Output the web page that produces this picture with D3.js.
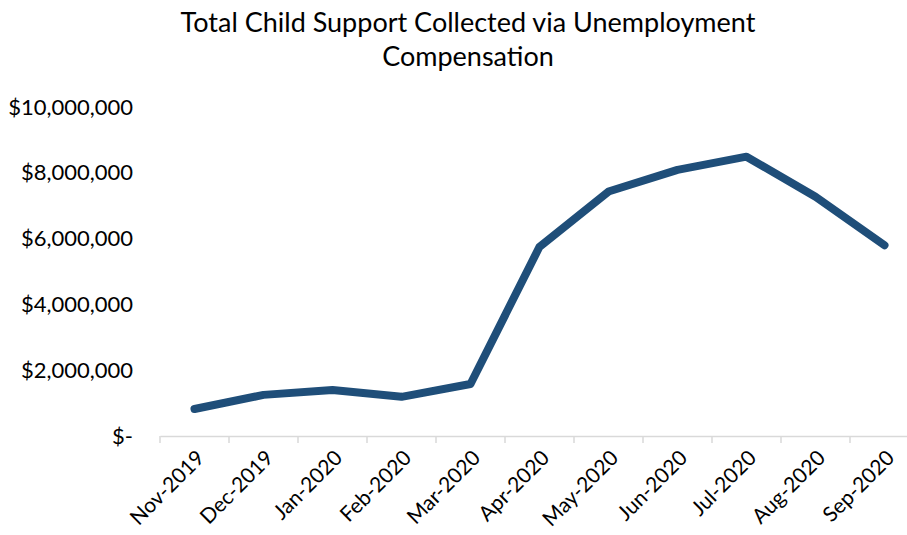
<!DOCTYPE html>
<html>
<head>
<meta charset="utf-8">
<script src="https://cdn.jsdelivr.net/npm/d3@7"></script>
<style>
  body { margin: 0; background: #fff; }
  svg { display: block; font-family: Lato, "Open Sans", sans-serif; }
</style>
</head>
<body>
<div id="chart"></div>
<script>
// ── Data ─────────────────────────────────────────────────────────────────
const months = [
  "Nov-2019", "Dec-2019", "Jan-2020", "Feb-2020", "Mar-2020", "Apr-2020",
  "May-2020", "Jun-2020", "Jul-2020", "Aug-2020", "Sep-2020",
];
const collected = [
  820000, 1250000, 1400000, 1190000, 1580000, 5750000,
  7430000, 8090000, 8490000, 7270000, 5800000,
];
const yTicks = [0, 2000000, 4000000, 6000000, 8000000, 10000000];
const titleLines = ["Total Child Support Collected via Unemployment", "Compensation"];

// ── Dimensions ───────────────────────────────────────────────────────────
const W = 907, H = 535;
const margin = { top: 107, right: -12, bottom: 99, left: 160 };
const width = W - margin.left - margin.right;
const height = H - margin.top - margin.bottom;

const FONT = "Lato, 'Open Sans', sans-serif";

const svg = d3.select("#chart").append("svg")
  .attr("width", W).attr("height", H);

// ── Title ────────────────────────────────────────────────────────────────
svg.append("text")
  .attr("x", 468).attr("y", 32)
  .attr("text-anchor", "middle")
  .style("font-size", "27px")
  .style("font-family", FONT)
  .attr("fill", "#000")
  .selectAll("tspan")
  .data(titleLines)
  .join("tspan")
  .attr("x", 468)
  .attr("dy", (d, i) => (i === 0 ? 0 : 34))
  .text((d) => d);

const g = svg.append("g")
  .attr("transform", `translate(${margin.left},${margin.top})`);

// ── Scales ───────────────────────────────────────────────────────────────
const x = d3.scaleBand().domain(months).range([0, width]);
const y = d3.scaleLinear().domain([0, 10000000]).range([height, 0]);

// ── Y axis (labels only) ─────────────────────────────────────────────────
const fmt = d3.format("$,");
g.append("g")
  .call(d3.axisLeft(y).tickValues(yTicks).tickSize(0).tickPadding(27)
    .tickFormat((d) => (d === 0 ? "$-" : fmt(d))))
  .call((ax) => ax.select(".domain").remove())
  .call((ax) => ax.selectAll("text")
    .style("font-size", "22px")
    .style("font-family", FONT)
    .attr("fill", "#000"));

// ── X axis ───────────────────────────────────────────────────────────────
const xAxis = g.append("g")
  .attr("transform", `translate(0,${height})`)
  .call(d3.axisBottom(x).tickSize(0).tickPadding(0));

xAxis.select(".domain").attr("stroke", "#d9d9d9").attr("stroke-width", 1.5);

// boundary ticks between categories
xAxis.selectAll(".cat-tick")
  .data(months)
  .join("line")
  .attr("class", "cat-tick")
  .attr("x1", (d) => x(d)).attr("x2", (d) => x(d))
  .attr("y1", 0).attr("y2", 7)
  .attr("stroke", "#d9d9d9").attr("stroke-width", 1.5);

xAxis.selectAll(".tick text")
  .style("font-size", "21px")
  .style("font-family", FONT)
  .attr("fill", "#000")
  .attr("text-anchor", "end")
  .attr("transform", "translate(6,18) rotate(-45)")
  .attr("dy", "0.35em");

// ── Line ─────────────────────────────────────────────────────────────────
const line = d3.line()
  .x((d, i) => x(months[i]) + x.bandwidth() / 2)
  .y((d) => y(d));

g.append("path")
  .datum(collected)
  .attr("fill", "none")
  .attr("stroke", "#1f4e79")
  .attr("stroke-width", 8)
  .attr("stroke-linecap", "round")
  .attr("stroke-linejoin", "round")
  .attr("d", line);
</script>
</body>
</html>
